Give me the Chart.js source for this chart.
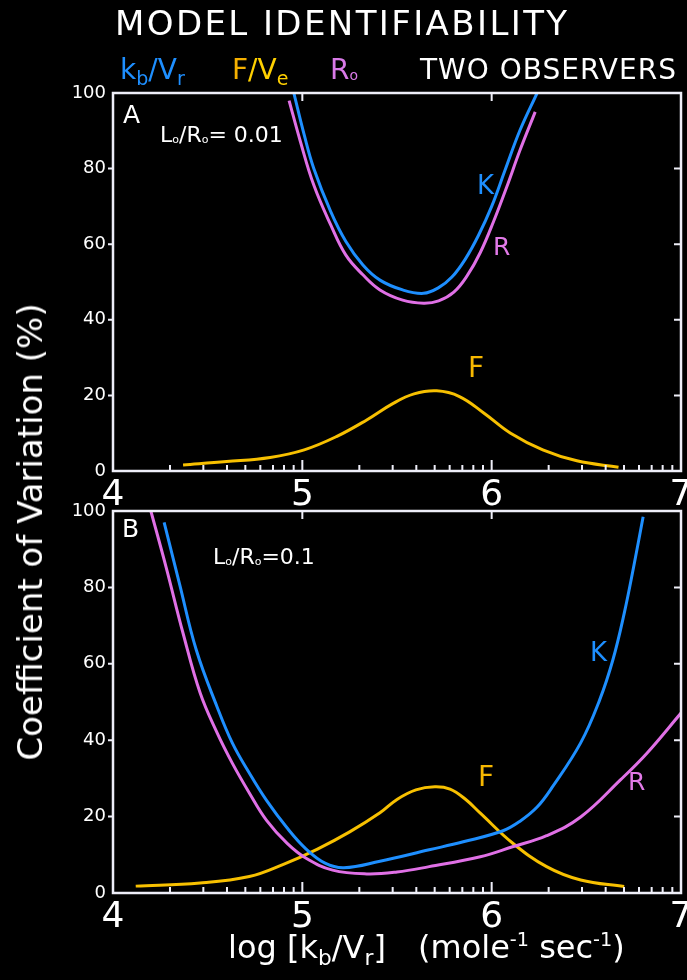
<!DOCTYPE html>
<html><head><meta charset="utf-8">
<script src="https://cdn.jsdelivr.net/npm/chart.js@4.4.0/dist/chart.umd.min.js"></script>
<style>
html,body{margin:0;padding:0;background:#000;}
body{width:687px;height:980px;position:relative;overflow:hidden;font-family:"DejaVu Sans",sans-serif;color:#fff;}
.t{position:absolute;white-space:nowrap;line-height:1;}
.t sub{font-size:68%;vertical-align:-0.3em;line-height:0;}
.t sup{font-size:60%;vertical-align:0.6em;line-height:0;}
.o{font-size:50%;vertical-align:-0.1em;}
canvas{position:absolute;left:0;}
</style></head><body>
<canvas id="cA" width="687" height="520" style="top:0"></canvas>
<canvas id="cB" width="687" height="490" style="top:490px"></canvas>

<div class="t" style="left:115px;top:6px;font-size:34px;letter-spacing:2.4px;">MODEL IDENTIFIABILITY</div>
<div class="t" style="left:120px;top:56px;font-size:28px;color:#1e8fff;">k<sub>b</sub>/V<sub>r</sub></div>
<div class="t" style="left:232px;top:56px;font-size:28px;"><span style="color:#f5b000">F</span><span style="color:#ffd000">/V<sub>e</sub></span></div>
<div class="t" style="left:330px;top:56px;font-size:28px;color:#d97ae8;">R<span class="o">o</span></div>
<div class="t" style="left:420px;top:56px;font-size:28px;letter-spacing:1px;">TWO OBSERVERS</div>

<div class="t" style="left:123px;top:102px;font-size:25px;">A</div>
<div class="t" style="left:160px;top:124px;font-size:22px;">L<span class="o">o</span>/R<span class="o">o</span>= 0.01</div>
<div class="t" style="left:122px;top:516px;font-size:25px;">B</div>
<div class="t" style="left:213px;top:546px;font-size:22px;">L<span class="o">o</span>/R<span class="o">o</span>=0.1</div>

<div class="t" style="left:477px;top:172px;font-size:26px;color:#1e8fff;">K</div>
<div class="t" style="left:493px;top:234px;font-size:25px;color:#e27ae8;">R</div>
<div class="t" style="left:468px;top:354px;font-size:28px;color:#f7b800;">F</div>
<div class="t" style="left:590px;top:639px;font-size:26px;color:#1e8fff;">K</div>
<div class="t" style="left:628px;top:769px;font-size:25px;color:#e27ae8;">R</div>
<div class="t" style="left:478px;top:763px;font-size:28px;color:#f7b800;">F</div>

<div class="t" style="left:30px;top:532px;font-size:34px;transform:translate(-50%,-50%) rotate(-90deg);">Coefficient of Variation (%)</div>
<div class="t" style="left:228px;top:931px;font-size:32px;">log [k<sub>b</sub>/V<sub>r</sub>]</div>
<div class="t" style="left:418px;top:931px;font-size:32px;">(mole<sup>-1</sup> sec<sup>-1</sup>)</div>

<script>
// ---- tick labels ----
const xTicks = [4, 5, 6, 7];
const yTicks = [0, 20, 40, 60, 80, 100];

// ---- Panel A (Lo/Ro = 0.01) ----
const aKx = [4.955, 5.01, 5.06, 5.15, 5.23, 5.32, 5.41, 5.53, 5.64, 5.72, 5.79, 5.86, 5.93, 6.00, 6.07, 6.15, 6.24];
const aKy = [100, 88.9, 80.1, 68.6, 60.7, 54.5, 50.5, 47.9, 47.0, 48.5, 51.3, 56.0, 62.3, 70.0, 79.5, 90.2, 100];
const aRx = [4.93, 4.99, 5.06, 5.15, 5.23, 5.32, 5.41, 5.53, 5.64, 5.72, 5.80, 5.87, 5.94, 6.01, 6.08, 6.15, 6.23];
const aRy = [98, 87.1, 75.7, 65.1, 57.1, 51.9, 47.9, 45.2, 44.4, 45.0, 47.3, 51.6, 57.8, 66.0, 75.2, 84.9, 95];
const aFx = [4.37, 4.60, 4.83, 5.01, 5.18, 5.34, 5.48, 5.59, 5.71, 5.83, 5.96, 6.10, 6.27, 6.45, 6.67];
const aFy = [1.6, 2.5, 3.6, 5.6, 9.1, 13.5, 17.9, 20.4, 21.2, 19.7, 15.3, 10.0, 5.6, 2.7, 1.0];

// ---- Panel B (Lo/Ro = 0.1) ----
const bKx = [4.27, 4.35, 4.44, 4.55, 4.63, 4.72, 4.81, 4.92, 5.02, 5.12, 5.22, 5.41, 5.67, 5.85, 6.06, 6.15, 6.24, 6.32, 6.47, 6.57, 6.64, 6.70, 6.75, 6.80];
const bKy = [97, 81.2, 63.6, 48.7, 39.3, 31.4, 24.3, 17.0, 11.5, 7.8, 6.6, 8.3, 11.3, 13.4, 16.3, 18.8, 22.5, 27.7, 39.3, 50.5, 61.0, 73.2, 85.4, 98.5];
const bRx = [4.20, 4.28, 4.37, 4.46, 4.55, 4.63, 4.72, 4.81, 4.92, 5.02, 5.16, 5.34, 5.50, 5.67, 5.94, 6.11, 6.29, 6.47, 6.68, 6.82, 7.0];
const bRy = [100, 85.4, 68, 52.4, 41.9, 34, 26.2, 19.1, 13.0, 9.1, 6.0, 5.0, 5.5, 6.9, 9.5, 12.1, 15.0, 19.9, 29.6, 36.6, 47.1];
const bFx = [4.12, 4.46, 4.72, 4.90, 5.08, 5.25, 5.41, 5.50, 5.60, 5.70, 5.78, 5.86, 5.94, 6.11, 6.29, 6.47, 6.70];
const bFy = [1.8, 2.6, 4.3, 7.5, 11.5, 16.0, 21.0, 24.5, 27.0, 27.8, 27.2, 24.6, 20.9, 13.1, 6.9, 3.4, 1.7];

const BLUE = '#1e8fff', MAG = '#e070e6', YEL = '#f7c000', AX = '#eeeef8';
const pts = (xs, ys) => xs.map((x, i) => ({x, y: ys[i]}));

const frame = {
  id: 'frame',
  afterDraw(chart) {
    const {ctx, chartArea: a, scales: {x, y}} = chart;
    ctx.save();
    ctx.strokeStyle = AX;
    ctx.lineCap = 'butt';
    ctx.lineWidth = 2.5;
    ctx.strokeRect(a.left, a.top, a.right - a.left, a.bottom - a.top);
    ctx.lineWidth = 2;
    ctx.beginPath();
    for (let d = xTicks[0]; d < xTicks[xTicks.length - 1]; d++) {
      for (let k = 2; k <= 9; k++) {
        const px = x.getPixelForValue(d + Math.log10(k));
        ctx.moveTo(px, a.bottom); ctx.lineTo(px, a.bottom - 6);
      }
    }
    xTicks.slice(1, -1).forEach(v => {
      const px = x.getPixelForValue(v);
      ctx.moveTo(px, a.bottom); ctx.lineTo(px, a.bottom - 11);
      ctx.moveTo(px, a.top); ctx.lineTo(px, a.top + 8);
    });
    yTicks.slice(1, -1).forEach(v => {
      const py = y.getPixelForValue(v);
      ctx.moveTo(a.left - 5, py); ctx.lineTo(a.left, py);
      ctx.moveTo(a.right, py); ctx.lineTo(a.right - 7, py);
    });
    ctx.stroke();
    ctx.restore();
  }
};

function makeChart(id, padTop, xHeight, sets) {
  return new Chart(document.getElementById(id), {
    type: 'line',
    data: {
      datasets: sets.map(([xs, ys, c]) => ({
        data: pts(xs, ys), borderColor: c, borderWidth: 3, pointRadius: 0,
        tension: 0.4, fill: false
      }))
    },
    options: {
      responsive: false, animation: false, devicePixelRatio: 1,
      layout: {padding: {top: padTop, right: 6, left: 0, bottom: 0}},
      plugins: {legend: {display: false}, tooltip: {enabled: false}},
      scales: {
        x: {
          type: 'linear', min: 4, max: 7,
          afterBuildTicks: s => { s.ticks = xTicks.map(v => ({value: v})); },
          grid: {display: false, drawTicks: false}, border: {display: false},
          ticks: {color: '#fff', font: {family: 'DejaVu Sans', size: 36}, padding: 3, maxRotation: 0, autoSkip: false},
          afterFit: s => { s.height = xHeight; s.paddingLeft = 0; s.paddingRight = 0; }
        },
        y: {
          min: 0, max: 100,
          afterBuildTicks: s => { s.ticks = yTicks.map(v => ({value: v})); },
          grid: {display: false, drawTicks: false}, border: {display: false},
          ticks: {color: '#fff', font: {family: 'DejaVu Sans', size: 18}, padding: 7},
          afterFit: s => { s.width = 113; s.paddingTop = 0; s.paddingBottom = 0; }
        }
      }
    },
    plugins: [frame]
  });
}

makeChart('cA', 93, 49, [[aKx, aKy, BLUE], [aRx, aRy, MAG], [aFx, aFy, YEL]]);
makeChart('cB', 21, 87, [[bKx, bKy, BLUE], [bRx, bRy, MAG], [bFx, bFy, YEL]]);
</script>
</body></html>
